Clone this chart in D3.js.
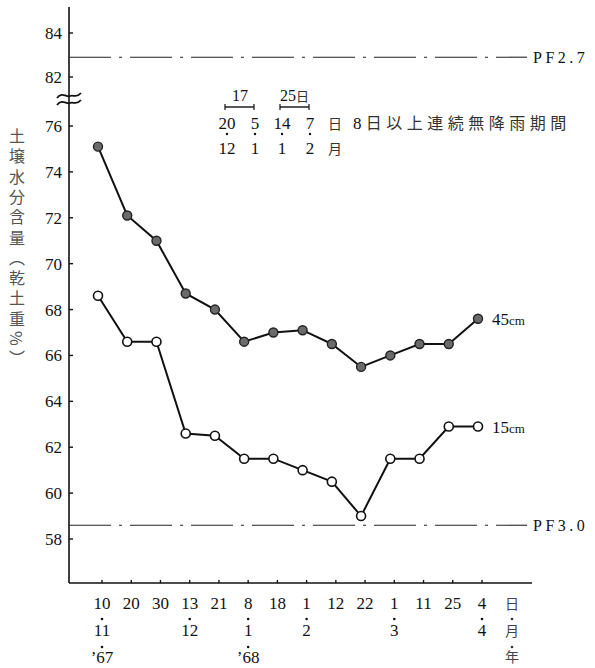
<!DOCTYPE html>
<html>
<head>
<meta charset="utf-8">
<script src="https://cdn.jsdelivr.net/npm/d3@7"></script>
<style>
  body { margin: 0; background: #fff; }
  svg text { font-family: "Liberation Serif", "DejaVu Serif", serif; fill: #111; }
  svg text.jp { font-family: "Noto Sans CJK JP", sans-serif; }
</style>
</head>
<body>
<div id="chart"></div>
<script>
// observation dates (day / month / year rows under the x axis)
var days = ["10", "20", "30", "13", "21", "8", "18", "1", "12", "22", "1", "11", "25", "4"];
var months = ["11", "", "", "12", "", "1", "", "2", "", "", "3", "", "", "4"];
var years = ["’67", "", "", "", "", "’68", "", "", "", "", "", "", "", ""];

// soil moisture, % of dry soil weight
var depth45 = [75.1, 72.1, 71.0, 68.7, 68.0, 66.6, 67.0, 67.1, 66.5, 65.5, 66.0, 66.5, 66.5, 67.6];
var depth15 = [68.6, 66.6, 66.6, 62.6, 62.5, 61.5, 61.5, 61.0, 60.5, 59.0, 61.5, 61.5, 62.9, 62.9];

var lowerTicks = [58, 60, 62, 64, 66, 68, 70, 72, 74, 76];
var upperTicks = [82, 84];
var pf = [{ label: "PF2.7", value: 82.9, upper: true }, { label: "PF3.0", value: 58.6, upper: false }];

// dry spells of 8 days or more
var spells = [
  { from: ["20", "12"], to: ["5", "1"], length: "17" },
  { from: ["14", "1"], to: ["7", "2"], length: "25日" }
];

var width = 595, height = 668;
var svg = d3.select("#chart").append("svg")
  .attr("width", width)
  .attr("height", height);

var axisX = 69, axisBottom = 583, axisTop = 7;

var x = d3.scalePoint()
  .domain(d3.range(days.length))
  .range([98, 478]);

// lower segment of the broken axis
var y = d3.scaleLinear().domain([58, 76]).range([539, 126]);
// upper segment, above the break
var yUp = d3.scaleLinear().domain([82, 84]).range([77, 33]);

// axes lines
svg.append("line")
  .attr("x1", axisX).attr("x2", axisX)
  .attr("y1", axisTop).attr("y2", axisBottom)
  .attr("stroke", "#111").attr("stroke-width", 1.6);
svg.append("line")
  .attr("x1", axisX).attr("x2", 532)
  .attr("y1", axisBottom).attr("y2", axisBottom)
  .attr("stroke", "#111").attr("stroke-width", 1.6);

// y ticks
function yTicks(scale, ticks) {
  var g = svg.append("g");
  g.selectAll("line").data(ticks).enter().append("line")
    .attr("x1", axisX).attr("x2", axisX + 4)
    .attr("y1", function(d) { return scale(d); })
    .attr("y2", function(d) { return scale(d); })
    .attr("stroke", "#111").attr("stroke-width", 1.4);
  g.selectAll("text").data(ticks).enter().append("text")
    .attr("x", 62)
    .attr("y", function(d) { return scale(d); })
    .attr("dy", "0.35em")
    .attr("text-anchor", "end")
    .style("font-size", "17px")
    .text(function(d) { return d; });
}
yTicks(y, lowerTicks);
yTicks(yUp, upperTicks);

// axis break mark
[96, 103].forEach(function(yy) {
  svg.append("path")
    .attr("d", "M57," + (yy + 2) + " C62," + (yy - 5) + " 67," + (yy + 2) + " 70," + yy +
      " C73," + (yy - 2) + " 76," + (yy + 3) + " 81," + (yy - 3))
    .attr("fill", "none").attr("stroke", "#111").attr("stroke-width", 1.8);
});

// x ticks and date labels
var xl = svg.append("g");
xl.selectAll("line").data(days).enter().append("line")
  .attr("x1", function(d, i) { return x(i) + 4; })
  .attr("x2", function(d, i) { return x(i) + 4; })
  .attr("y1", axisBottom).attr("y2", axisBottom - 3)
  .attr("stroke", "#111").attr("stroke-width", 1.4);

function dateRow(vals, yy) {
  xl.append("g").selectAll("text").data(vals).enter().append("text")
    .attr("x", function(d, i) { return x(i) + 4; })
    .attr("y", yy)
    .attr("text-anchor", "middle")
    .style("font-size", "17px")
    .text(function(d) { return d; });
}
function dotRow(vals, yy) {
  xl.append("g").selectAll("circle").data(vals.map(function(d, i) { return { d: d, i: i }; })
    .filter(function(o) { return o.d !== ""; })).enter().append("circle")
    .attr("cx", function(o) { return x(o.i) + 4; })
    .attr("cy", yy)
    .attr("r", 1.3)
    .attr("fill", "#111");
}
dateRow(days, 609);
dotRow(months, 619);
dateRow(months, 636);
dotRow(years, 647);
dateRow(years, 663);

// 日・月・年 at the end of the date rows
var unitY = [["日", 609], ["月", 636], ["年", 662]];
unitY.forEach(function(u) {
  svg.append("text").attr("class", "jp")
    .attr("x", 512).attr("y", u[1])
    .attr("text-anchor", "middle")
    .style("font-size", "14px").style("fill", "#444")
    .text(u[0]);
});
[619, 647].forEach(function(yy) {
  svg.append("circle").attr("cx", 512).attr("cy", yy).attr("r", 1.3).attr("fill", "#333");
});

// PF reference lines
pf.forEach(function(p) {
  var yy = p.upper ? yUp(p.value) : y(p.value);
  svg.append("line")
    .attr("x1", axisX).attr("x2", 527)
    .attr("y1", yy).attr("y2", yy)
    .attr("stroke", "#222").attr("stroke-width", 1.1)
    .attr("stroke-dasharray", "42,8,3,8");
  svg.append("text")
    .attr("x", 533).attr("y", yy)
    .attr("dy", "0.35em")
    .style("font-size", "16px")
    .style("letter-spacing", "3.5px")
    .text(p.label);
});

// data lines
var line = d3.line()
  .x(function(d, i) { return x(i); })
  .y(function(d) { return y(d); });

svg.append("path").datum(depth45)
  .attr("d", line)
  .attr("fill", "none").attr("stroke", "#111").attr("stroke-width", 2);
svg.append("path").datum(depth15)
  .attr("d", line)
  .attr("fill", "none").attr("stroke", "#111").attr("stroke-width", 2);

svg.append("g").selectAll("circle").data(depth45).enter().append("circle")
  .attr("cx", function(d, i) { return x(i); })
  .attr("cy", function(d) { return y(d); })
  .attr("r", 4.5)
  .attr("fill", "#6a6a6a").attr("stroke", "#222").attr("stroke-width", 1.4);
svg.append("g").selectAll("circle").data(depth15).enter().append("circle")
  .attr("cx", function(d, i) { return x(i); })
  .attr("cy", function(d) { return y(d); })
  .attr("r", 4.5)
  .attr("fill", "#fff").attr("stroke", "#111").attr("stroke-width", 1.6);

// series labels
function seriesLabel(vals, txt) {
  var last = vals.length - 1;
  var t = svg.append("text")
    .attr("x", x(last) + 14)
    .attr("y", y(vals[last]))
    .attr("dy", "0.35em")
    .style("font-size", "17px");
  t.append("tspan").text(txt);
  t.append("tspan").style("font-size", "13px").text("cm");
}
seriesLabel(depth45, "45");
seriesLabel(depth15, "15");

// dry spell annotation
var ax = [227, 255, 282, 310];
var ann = svg.append("g");
spells.forEach(function(s, k) {
  var x1 = ax[k * 2], x2 = ax[k * 2 + 1];
  ann.append("line").attr("x1", x1 - 2).attr("x2", x2 - 1).attr("y1", 107).attr("y2", 107)
    .attr("stroke", "#111").attr("stroke-width", 1.4);
  [x1 - 2, x2 - 1].forEach(function(xx) {
    ann.append("line").attr("x1", xx).attr("x2", xx).attr("y1", 104).attr("y2", 110)
      .attr("stroke", "#111").attr("stroke-width", 1.2);
  });
  var lt = ann.append("text")
    .attr("x", k === 0 ? (x1 + x2) / 2 - 1 : x1 - 2)
    .attr("y", 101)
    .attr("text-anchor", k === 0 ? "middle" : "start")
    .style("font-size", "16px");
  if (k === 0) {
    lt.text(s.length);
  } else {
    lt.append("tspan").text(s.length.replace("日", ""));
    lt.append("tspan").style("font-family", "Noto Sans CJK JP")
      .style("font-size", "13px").style("fill", "#333").text("日");
  }
  [[s.from, x1], [s.to, x2]].forEach(function(p) {
    ann.append("text").attr("x", p[1]).attr("y", 129).attr("text-anchor", "middle")
      .style("font-size", "17px").text(p[0][0]);
    ann.append("circle").attr("cx", p[1]).attr("cy", 134).attr("r", 1.2).attr("fill", "#111");
    ann.append("text").attr("x", p[1]).attr("y", 154).attr("text-anchor", "middle")
      .style("font-size", "17px").text(p[0][1]);
  });
});
ann.append("text").attr("class", "jp").attr("x", 335).attr("y", 129)
  .attr("text-anchor", "middle").style("font-size", "14px").style("fill", "#333").text("日");
ann.append("text").attr("class", "jp").attr("x", 335).attr("y", 154)
  .attr("text-anchor", "middle").style("font-size", "14px").style("fill", "#333").text("月");
var note = ann.append("text").attr("x", 353).attr("y", 129)
  .style("font-size", "17px");
note.append("tspan").text("8 ");
note.append("tspan").style("font-family", "Noto Sans CJK JP")
  .style("font-size", "16px").style("fill", "#333").style("letter-spacing", "4.5px")
  .text("日以上連続無降雨期間");

// vertical y-axis title
svg.append("text")
  .attr("class", "jp")
  .attr("x", 17)
  .attr("y", 128)
  .style("writing-mode", "vertical-rl")
  .style("text-orientation", "mixed")
  .style("font-size", "16px")
  .style("letter-spacing", "4.3px")
  .style("fill", "#555")
  .text("土壌水分含量（乾土重%）");
</script>
</body>
</html>
